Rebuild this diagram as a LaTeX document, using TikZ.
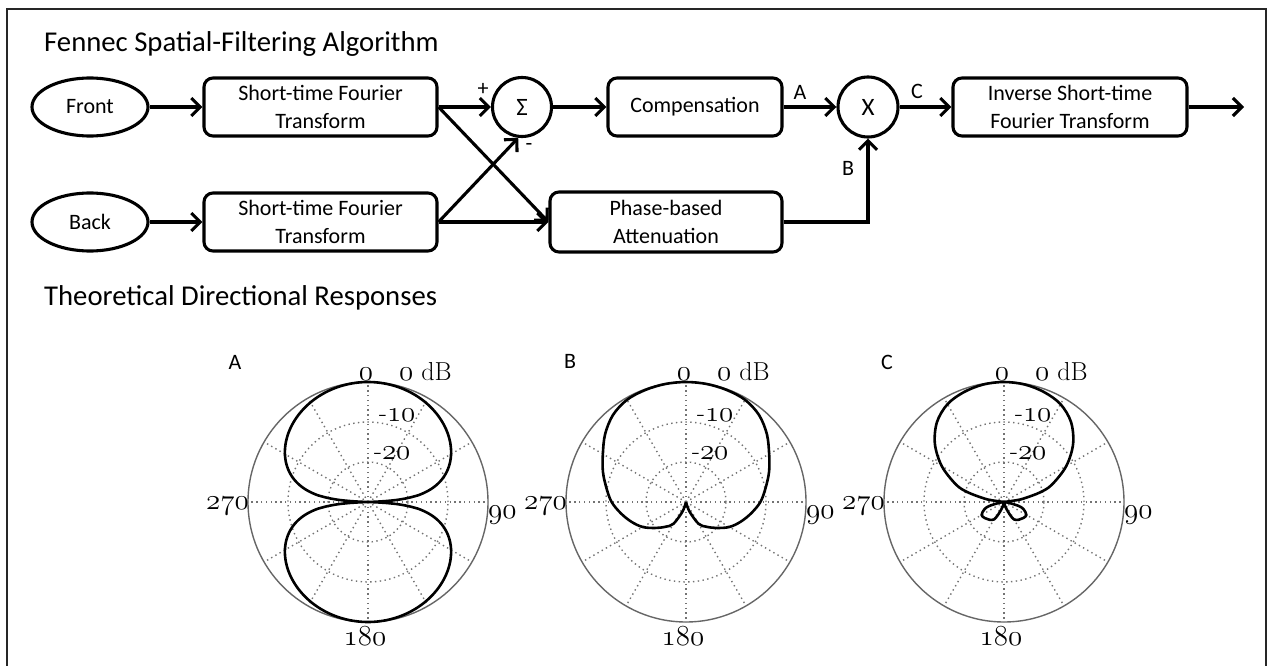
\documentclass[tikz,border=0pt]{standalone}
\usepackage{fontspec}
\newfontfamily\carlito{Carlito}
\usetikzlibrary{arrows.meta,shapes.geometric}
\font\osfnt=cmmi12 at 29pt
\newcommand\osf[1]{{\osfnt #1}}
\tikzset{
  diag/.style={font=\carlito\fontsize{22}{28}\selectfont},
  blk/.style={draw, line width=3.1pt, rounded corners=9pt, minimum height=58pt, align=center, inner sep=0pt, diag},
  oval/.style={draw, ellipse, line width=3.1pt, minimum width=116pt, minimum height=58pt, inner sep=0pt, diag},
  junc/.style={draw, circle, line width=3.1pt, minimum size=59pt, inner sep=0pt, font=\carlito\fontsize{25}{28}\selectfont},
  flow/.style={line width=3.1pt, -{Straight Barb[length=9pt,width=18pt]}},
  lbl/.style={diag, inner sep=0pt},
  ttl/.style={font=\carlito\fontsize{28.7}{34}\selectfont, anchor=base west, inner sep=0pt},
  plab/.style={font=\fontsize{26}{30}\selectfont, inner sep=0pt},
  ring/.style={black!55, line width=1.4pt, dash pattern=on 1.4pt off 3.4pt},
  rim/.style={draw=black!60, line width=1.4pt},
  resp/.style={line width=2.6pt, line join=round, black},
}
\begin{document}
\begin{tikzpicture}[x=1pt,y=-1pt]
\useasboundingbox (0,0) rectangle (1267,666);
\begin{scope}
\clip (0,0) rectangle (1267,666);
\draw[line width=2.2pt, black!85] (7,690) -- (7,9) -- (1266,9) -- (1266,690);
\end{scope}

% titles
\node[ttl] (t1) at (44,52) {Fennec Spatial-Filtering Algorithm};
\node[ttl] (t2) at (44,305) {Theoretical Directional Responses};

% block diagram
\node[oval] (front) at (90,107) {Front};
\node[oval] (back) at (90,222) {Back};
\node[blk, minimum width=233pt] (stft1) at (320.5,107) {Short-time Fourier\\Transform};
\node[blk, minimum width=233pt] (stft2) at (320.5,222) {Short-time Fourier\\Transform};
\node[junc] (sum) at (522,107) {Σ};
\node[blk, minimum width=174pt] (comp) at (695,107) {Compensation};
\node[blk, minimum width=232pt, minimum height=60pt] (phase) at (666,222) {Phase-based\\Attenuation};
\node[junc, minimum size=60pt] (mult) at (868,107) {X};
\node[blk, minimum width=234pt] (istft) at (1070,107) {Inverse Short-time\\Fourier Transform};
\coordinate (out) at (1244,107);

\draw[flow] (front) -- (stft1);
\draw[flow] (back) -- (stft2);
\draw[flow] (stft1.east) -- (sum.west);
\draw[flow] (stft1.east) -- (phase.west);
\draw[flow] (stft2.east) -- (phase.west);
\draw[flow] (stft2.east) -- (sum.263);
\draw[flow] (sum) -- (comp);
\draw[flow] (comp) -- (mult);
\draw[flow] (mult) -- (istft);
\draw[flow] (phase.east) -| (mult.south);
\draw[flow] (istft.east) -- (out);

\node[lbl] (lplus) at (483,89) {+};
\node[lbl] (lminus) at (529,147) {-};
\node[lbl] (lA) at (800,92) {A};
\node[lbl] (lC) at (917,91) {C};
\node[lbl] (lB) at (848,168) {B};

% polar plots: grid and labels
\foreach \cx/\i in {368/a,686/b,1004/c}{
  \begin{scope}[shift={(\cx pt,-502pt)}, x=1pt, y=1pt]
    \draw[ring] (0,0) circle (40);
    \draw[ring] (0,0) circle (80);
    \foreach \a in {0,30,...,330} \draw[ring] (0,0) -- (\a:120);
    \draw[rim] (0,0) circle (120);
  \end{scope}
  \node[plab, anchor=base] (z\i) at ({\cx-2},380) {\osf{0}};
  \node[plab, anchor=base west] (db\i) at ({\cx+31},380) {\osf{0}\hspace{8pt}dB};
  \node[plab, anchor=base west] (m10\i) at ({\cx+11},421) {-\osf{10}};
  \node[plab, anchor=base west] (m20\i) at ({\cx+6},459) {-\osf{20}};
  \node[plab, anchor=base east] (w\i) at ({\cx-119},509) {\osf{270}};
  \node[plab, anchor=base west] (e\i) at ({\cx+120},518) {\osf{90}};
  \node[plab, anchor=base] (s\i) at ({\cx-3},645) {\osf{180}};
}
\node[lbl] (pA) at (235,362) {A};
\node[lbl] (pB) at (570,361) {B};
\node[lbl] (pC) at (887,362) {C};

% response A
\begin{scope}[shift={(368pt,-502pt)}, x=1pt, y=1pt]
  \draw[resp] plot[domain=0:360, samples=721, variable=\t]
    (\t:{max(0,120+34.744*ln(max(abs(sin(\t)),0.001)))});
\end{scope}

% response B
\begin{scope}[shift={(686pt,-502pt)}, x=1pt, y=1pt]
  \draw[resp] plot[smooth, tension=0.55] coordinates {(0,0) (-70:10) (-60:25.2) (-50:32.4) (-40:40.4) (-30:50) (-20:58) (-10:66) (0:74.4) (10:80.8) (20:88.4) (30:96) (40:105.6) (50:113.6) (60:118) (70:119.2) (80:119.8) (90:120) (100:119.8) (110:119.2) (120:118) (130:113.6) (140:105.6) (150:96) (160:88.4) (170:80.8) (180:74.4) (190:66) (200:58) (210:50) (220:40.4) (230:32.4) (240:25.2) (250:10) (0,0)};
\end{scope}

% response C
\begin{scope}[shift={(1004pt,-502pt)}, x=1pt, y=1pt]
  \draw[resp] plot[smooth, tension=0.55] coordinates {(0,0) (8:11.1) (10:20) (15:37.6) (20:51.1) (30:71.9) (40:90.2) (50:104.3) (60:113) (70:117) (80:119.3) (90:120) (100:119.3) (110:117) (120:113) (130:104.3) (140:90.2) (150:71.9) (160:51.1) (165:37.6) (170:20) (172:11.1) (0,0)};
  \draw[resp] plot[smooth, tension=0.55] coordinates {(0,0) (-10:5.2) (-15:15) (-20:20.7) (-30:25.9) (-40:25) (-50:23.1) (-60:20.2) (-65:14.2) (-70:7.8) (-75:3.8) (0,0)};
  \draw[resp] plot[smooth, tension=0.55] coordinates {(0,0) (190:5.2) (195:15) (200:20.7) (210:25.9) (220:25) (230:23.1) (240:20.2) (245:14.2) (250:7.8) (255:3.8) (0,0)};
\end{scope}
\end{tikzpicture}
\end{document}
